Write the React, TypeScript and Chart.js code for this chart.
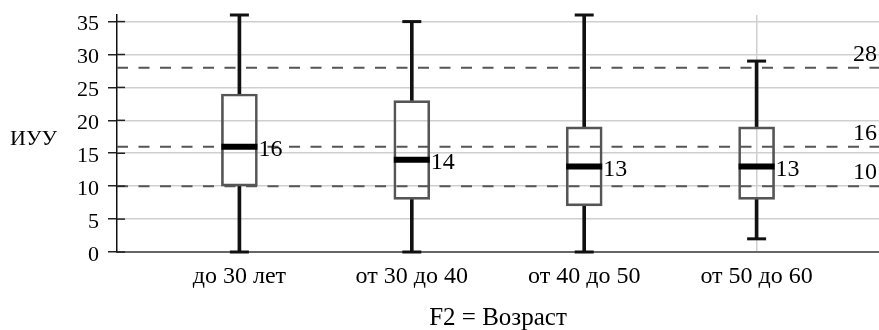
import React, { useEffect, useRef } from 'react';
import { Chart, registerables } from 'chart.js';

Chart.register(...registerables);

const categories = ['до 30 лет', 'от 30 до 40', 'от 40 до 50', 'от 50 до 60'];
const whiskerLow = [0, 0, 0, 2];
const quartile1 = [10, 8, 7, 8];
const medians = [16, 14, 13, 13];
const quartile3 = [24, 23, 19, 19];
const whiskerHigh = [36, 35, 36, 29];
const referenceLines = [28, 16, 10];
const yTickValues = [0, 5, 10, 15, 20, 25, 30, 35];
const yAxisTitle = 'ИУУ';
const xAxisTitle = 'F2 = Возраст';

const X_MIN = 0.29;
const X_MAX = 4.71;
const Y_MIN = 0;
const Y_MAX = 36;
const BOX_WIDTH = 36;
const FONT_FAMILY = '"Liberation Serif", "Times New Roman", serif';
const TICK_FONT = 22;
const LABEL_FONT = 24;
const TEXT_COLOR = '#000';

const positions = categories.map((_, i) => i + 1);

const annotationPlugin = {
  id: 'boxAnnotations',
  afterDatasetsDraw(chart: any) {
    const { ctx, chartArea, scales } = chart;
    const x = scales.x;
    const y = scales.y;
    ctx.save();
    // inner part of the y tick marks
    ctx.strokeStyle = '#222';
    ctx.lineWidth = 1.5;
    y.ticks.forEach((t: any) => {
      const py = y.getPixelForValue(t.value);
      ctx.beginPath();
      ctx.moveTo(chartArea.left, py);
      ctx.lineTo(chartArea.left + 8, py);
      ctx.stroke();
    });
    ctx.fillStyle = TEXT_COLOR;
    // median labels
    ctx.font = `${LABEL_FONT}px ${FONT_FAMILY}`;
    ctx.textAlign = 'left';
    ctx.textBaseline = 'middle';
    medians.forEach((m, i) => {
      const px = x.getPixelForValue(positions[i]) + BOX_WIDTH / 2 + 1;
      ctx.fillText(String(m), px, y.getPixelForValue(m) + 3);
    });
    // reference line labels
    ctx.textAlign = 'right';
    ctx.textBaseline = 'alphabetic';
    referenceLines.forEach((v) => {
      ctx.fillText(String(v), chartArea.right - 2, y.getPixelForValue(v) - 7);
    });
    // horizontal y-axis title
    ctx.font = `${TICK_FONT}px ${FONT_FAMILY}`;
    ctx.textAlign = 'left';
    ctx.fillText(yAxisTitle, 10, (chartArea.top + chartArea.bottom) / 2 + 11.5);
    ctx.restore();
  },
};

export default function App() {
  const canvasRef = useRef<HTMLCanvasElement | null>(null);

  useEffect(() => {
    document.body.style.margin = '0';
    const canvas = canvasRef.current;
    if (!canvas) return;

    const boxData = positions.map((p, i) => ({ x: p, y: [quartile1[i], quartile3[i]] }));
    const lowWhiskers = positions.map((p, i) => ({ x: p, y: [whiskerLow[i], quartile1[i]] }));
    const highWhiskers = positions.map((p, i) => ({ x: p, y: [quartile3[i], whiskerHigh[i]] }));
    const caps = [
      ...positions.map((p, i) => ({ x: p, y: whiskerLow[i] })),
      ...positions.map((p, i) => ({ x: p, y: whiskerHigh[i] })),
    ];
    const medianPoints = positions.map((p, i) => ({ x: p, y: medians[i] }));

    const refDatasets = referenceLines.map((v) => ({
      type: 'line' as const,
      data: [
        { x: X_MIN, y: v },
        { x: X_MAX, y: v },
      ],
      borderColor: '#555',
      borderWidth: 2,
      borderDash: [11, 10.5],
      pointRadius: 0,
      fill: false,
      order: 10,
    }));

    const chart = new Chart(canvas, {
      type: 'bar',
      data: {
        datasets: [
          ...refDatasets,
          {
            type: 'bar',
            data: lowWhiskers as any,
            backgroundColor: '#111',
            borderWidth: 0,
            barThickness: 3,
            grouped: false,
            order: 5,
          },
          {
            type: 'bar',
            data: highWhiskers as any,
            backgroundColor: '#111',
            borderWidth: 0,
            barThickness: 3,
            grouped: false,
            clip: false,
            order: 5,
          },
          {
            type: 'bar',
            data: boxData as any,
            backgroundColor: 'rgba(0,0,0,0)',
            borderColor: '#555',
            borderWidth: 2,
            borderSkipped: false,
            barThickness: BOX_WIDTH,
            grouped: false,
            order: 4,
          },
          {
            type: 'line',
            data: caps as any,
            showLine: false,
            pointStyle: 'line',
            pointRadius: 9.5,
            pointBorderWidth: 3,
            pointBorderColor: '#111',
            pointBackgroundColor: '#111',
            clip: false,
            order: 3,
          },
          {
            type: 'line',
            data: medianPoints as any,
            showLine: false,
            pointStyle: 'line',
            pointRadius: BOX_WIDTH / 2,
            pointBorderWidth: 6,
            pointBorderColor: '#000',
            pointBackgroundColor: '#000',
            order: 1,
          },
        ] as any,
      },
      options: {
        responsive: false,
        animation: false,
        devicePixelRatio: 1,
        layout: { autoPadding: false, padding: { top: 15, right: 0, left: 0, bottom: 0 } },
        plugins: {
          legend: { display: false },
          tooltip: { enabled: false },
        },
        scales: {
          x: {
            type: 'linear',
            offset: false,
            min: X_MIN,
            max: X_MAX,
            afterBuildTicks: (scale: any) => {
              scale.ticks = positions.map((v) => ({ value: v }));
            },
            afterFit: (scale: any) => {
              scale.height = 78;
              scale.paddingLeft = 0;
              scale.paddingRight = 0;
            },
            ticks: {
              color: TEXT_COLOR,
              padding: 10,
              autoSkip: false,
              maxRotation: 0,
              font: { family: FONT_FAMILY, size: LABEL_FONT },
              callback: (v: any) => categories[Number(v) - 1] ?? '',
            },
            grid: {
              offset: false,
              drawTicks: false,
              color: (ctx: any) =>
                ctx.tick && ctx.tick.value === positions[positions.length - 1] ? '#cfcfcf' : 'rgba(0,0,0,0)',
              lineWidth: 1.5,
            },
            border: { display: true, color: '#666', width: 2 },
            title: {
              display: true,
              text: xAxisTitle,
              color: TEXT_COLOR,
              font: { family: FONT_FAMILY, size: 25, lineHeight: 0.95 },
              padding: { top: 0, bottom: 0 },
            },
          },
          y: {
            type: 'linear',
            min: Y_MIN,
            max: Y_MAX,
            afterBuildTicks: (scale: any) => {
              scale.ticks = yTickValues.map((v) => ({ value: v }));
            },
            afterFit: (scale: any) => {
              scale.width = 117;
              scale.paddingTop = 0;
              scale.paddingBottom = 0;
            },
            ticks: {
              color: TEXT_COLOR,
              padding: 9,
              labelOffset: 3,
              font: { family: FONT_FAMILY, size: TICK_FONT },
            },
            grid: {
              color: '#cfcfcf',
              lineWidth: 1.5,
              tickLength: 9,
              tickColor: '#222',
              tickWidth: 1.5,
            },
            border: { display: true, color: '#111', width: 1.5 },
          },
        },
      } as any,
      plugins: [annotationPlugin],
    });

    return () => {
      chart.destroy();
    };
  }, []);

  return (
    <div style={{ width: 879, height: 330 }}>
      <canvas ref={canvasRef} width={879} height={330} />
    </div>
  );
}
